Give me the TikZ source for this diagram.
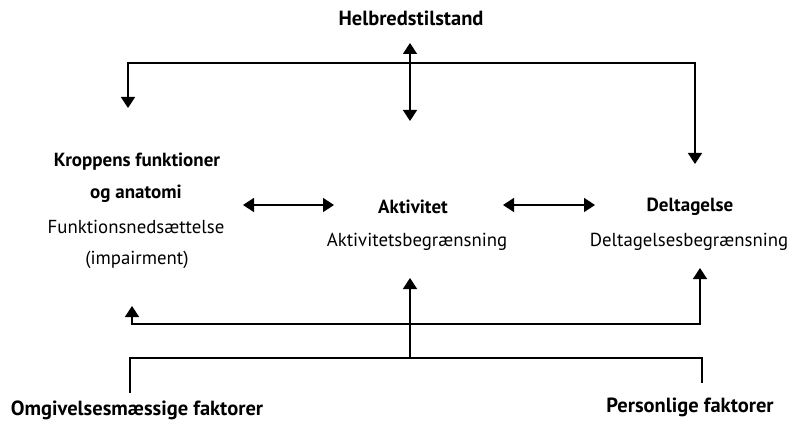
\documentclass[tikz,border=0pt]{standalone}
\usepackage{fontspec}
\setmainfont{PT Sans}
\usetikzlibrary{arrows.meta}
\usetikzlibrary{positioning}

\tikzset{
  head/.style={font=\bfseries\fontsize{19}{21}\selectfont, inner sep=1pt},
  big/.style={font=\bfseries\fontsize{20.5}{23}\selectfont, inner sep=1pt},
  sub/.style={font=\fontsize{18.8}{21}\selectfont, inner sep=1pt},
  link/.style={line width=1.5pt, >={Triangle[width=14pt,length=11pt]}},
}

\begin{document}
\begin{tikzpicture}[x=1pt,y=-1pt]
\useasboundingbox (0,0) rectangle (790,425);

% texts
\node[big] (helbred) at (411,18) {Helbredstilstand};
\node[head] (krop1) at (137,162) {Kroppens funktioner};
\node[head] (krop2) at (136,194) {og anatomi};
\node[sub] (krop3) at (136,227) {Funktionsnedsættelse};
\node[sub] (krop4) at (137,260) {(impairment)};
\node[head] (akt) at (413,207) {Aktivitet};
\node[sub] (aktb) at (417,242) {Aktivitetsbegrænsning};
\node[head] (delt) at (690,207) {Deltagelse};
\node[sub] (deltb) at (689,242) {Deltagelsesbegrænsning};
\node[big] (omg) at (137,410) {Omgivelsesmæssige faktorer};
\node[big] (pers) at (690,407) {Personlige faktorer};

% top
\coordinate (topL) at (128,63);
\coordinate (topR) at (695,63);
\coordinate (kropTip) at (128,108);
\coordinate (deltTip) at (695,164);
\draw[link,<->] (kropTip) -- (topL) -- (topR) -- (deltTip);
\coordinate (helTip) at (410,43);
\coordinate (aktTip) at (410,121);
\draw[link,<->] (helTip) -- (aktTip);

% middle
\coordinate (kaL) at (243,205);
\coordinate (kaR) at (334,205);
\draw[link,<->] (kaL) -- (kaR);
\coordinate (adL) at (503,205);
\coordinate (adR) at (595,205);
\draw[link,<->] (adL) -- (adR);

% bottom
\coordinate (midL) at (132,324);
\coordinate (midR) at (700,324);
\coordinate (kropUp) at (132,306);
\coordinate (deltUp) at (700,268);
\draw[link,<->] (kropUp) -- (midL) -- (midR) -- (deltUp);
\coordinate (lowL) at (130,358);
\coordinate (lowR) at (702,358);
\coordinate (lowM) at (410,358);
\coordinate (omgTop) at (130,393);
\coordinate (persTop) at (702,383);
\coordinate (aktUp) at (410,278);
\draw[link] (omgTop) -- (lowL) -- (lowR) -- (persTop);
\draw[link,->] (lowM) -- (aktUp);

\end{tikzpicture}
\end{document}
